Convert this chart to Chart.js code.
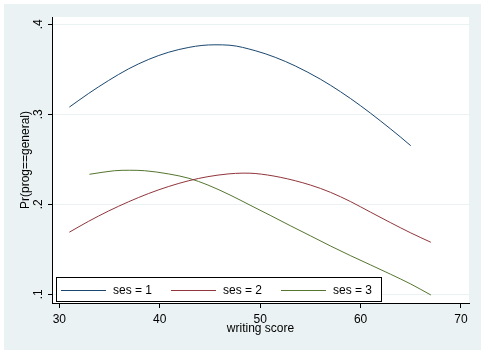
<!DOCTYPE html>
<html>
<head>
<meta charset="utf-8">
<script src="https://cdn.jsdelivr.net/npm/chart.js@4/dist/chart.umd.min.js"></script>
<style>
  html, body { margin: 0; padding: 0; background: #ffffff; }
  #wrap { position: absolute; left: 4px; top: 4px; width: 477px; height: 346px; background: #EAF2F3; }
  canvas { display: block; }
</style>
</head>
<body>
<div id="wrap"><canvas id="c" width="477" height="346"></canvas></div>
<script>
// ---- data ----
const seriesLabels = ['ses = 1', 'ses = 2', 'ses = 3'];

const ses1X = [31, 32.9, 34.9, 36.9, 38.9, 40.9, 42.9, 44.2, 45.5, 47, 49.5, 51.5, 53.5, 56, 58, 60, 62, 64, 65];
const ses1Y = [0.308, 0.323, 0.3375, 0.3505, 0.361, 0.369, 0.3743, 0.3765, 0.3772, 0.3767, 0.3707, 0.3633, 0.3537, 0.339, 0.3251, 0.3095, 0.2925, 0.2745, 0.2651];

const ses2X = [31, 32.9, 34.9, 36.9, 38.9, 40.9, 42.9, 44.8, 46.8, 48.3, 49.5, 52, 55, 57, 59, 61, 63, 65, 67];
const ses2Y = [0.169, 0.181, 0.1925, 0.2028, 0.212, 0.2198, 0.2262, 0.2307, 0.2337, 0.2346, 0.2342, 0.230, 0.2214, 0.2133, 0.203, 0.1912, 0.1795, 0.1682, 0.1578];

const ses3X = [33, 35.5, 37, 38.5, 40.9, 42.9, 44.8, 47, 49, 51, 53, 55, 57, 59, 61, 63, 65, 67];
const ses3Y = [0.2333, 0.2373, 0.2378, 0.2373, 0.2337, 0.2289, 0.2214, 0.2103, 0.199, 0.1877, 0.1762, 0.165, 0.1537, 0.1429, 0.1326, 0.1222, 0.1114, 0.0992];

const xTicks = [30, 40, 50, 60, 70];
const xTickLabels = ['30', '40', '50', '60', '70'];
const yTicks = [0.1, 0.2, 0.3, 0.4];
const yTickLabels = ['.1', '.2', '.3', '.4'];

const xTitle = 'writing score';
const yTitle = 'Pr(prog==general)';

const seriesColors = ['#1A476F', '#90353B', '#55752F'];

// ---- build ----
function pts(xs, ys) { return xs.map((x, i) => ({ x: x, y: ys[i] })); }

Chart.defaults.font.family = "'Liberation Sans', Arial, sans-serif";
Chart.defaults.font.size = 12;
Chart.defaults.color = '#000';

const plotBg = {
  id: 'plotBg',
  beforeDraw(chart) {
    const a = chart.chartArea, ctx = chart.ctx;
    ctx.save();
    ctx.fillStyle = '#ffffff';
    ctx.fillRect(a.left, a.top, a.right - a.left, a.bottom - a.top);
    ctx.restore();
  }
};

const boxLegend = {
  id: 'boxLegend',
  afterDraw(chart) {
    const a = chart.chartArea, ctx = chart.ctx;
    const bx = Math.round(a.left) + 4, by = Math.round(a.bottom) - 26, w = 325, h = 24;
    ctx.save();
    ctx.fillStyle = '#ffffff';
    ctx.fillRect(bx, by, w, h);
    ctx.strokeStyle = '#000';
    ctx.lineWidth = 1;
    ctx.strokeRect(bx + 0.5, by + 0.5, w, h);
    const cy = by + 13;
    ctx.font = "12px 'Liberation Sans', Arial, sans-serif";
    ctx.textBaseline = 'middle';
    ctx.textAlign = 'left';
    chart.data.datasets.forEach((ds, i) => {
      const x0 = bx + 5 + i * 110;
      ctx.strokeStyle = ds.borderColor;
      ctx.beginPath();
      ctx.moveTo(x0, cy + 0.5);
      ctx.lineTo(x0 + 45, cy + 0.5);
      ctx.stroke();
      ctx.fillStyle = '#000';
      ctx.fillText(ds.label, x0 + 52, cy + 1);
    });
    ctx.restore();
  }
};

const datasets = [
  [ses1X, ses1Y], [ses2X, ses2Y], [ses3X, ses3Y]
].map((s, i) => ({
  label: seriesLabels[i],
  data: pts(s[0], s[1]),
  borderColor: seriesColors[i],
  backgroundColor: seriesColors[i],
  borderWidth: 1,
  pointRadius: 0,
  fill: false,
  cubicInterpolationMode: 'monotone'
}));

new Chart(document.getElementById('c'), {
  type: 'line',
  data: { datasets: datasets },
  options: {
    responsive: false,
    animation: false,
    layout: { padding: { left: 0, top: 13, right: 12, bottom: 0 } },
    plugins: { legend: { display: false }, tooltip: { enabled: false } },
    scales: {
      x: {
        type: 'linear',
        min: 29.27,
        max: 70.8,
        afterBuildTicks: (scale) => { scale.ticks = xTicks.map(v => ({ value: v })); },
        afterFit: (scale) => { scale.height = 47; },
        ticks: {
          padding: 4,
          maxRotation: 0,
          minRotation: 0,
          callback: (v, i) => xTickLabels[i]
        },
        grid: { drawOnChartArea: false, tickLength: 5, tickColor: '#000', color: '#000' },
        border: { color: '#000', width: 1 },
        title: { display: true, text: xTitle, padding: { top: 0, bottom: 14 } }
      },
      y: {
        type: 'linear',
        min: 0.0903,
        max: 0.4081,
        afterBuildTicks: (scale) => { scale.ticks = yTicks.map(v => ({ value: v })); },
        afterFit: (scale) => { scale.width = 48; },
        ticks: {
          padding: 4,
          minRotation: 90,
          maxRotation: 90,
          crossAlign: 'center',
          callback: (v, i) => yTickLabels[i]
        },
        grid: { color: '#EAF2F3', tickColor: '#000', tickLength: 4, lineWidth: 1 },
        border: { color: '#000', width: 1 },
        title: { display: true, text: yTitle, padding: { top: 14, bottom: 0 } }
      }
    }
  },
  plugins: [plotBg, boxLegend]
});
</script>
</body>
</html>
